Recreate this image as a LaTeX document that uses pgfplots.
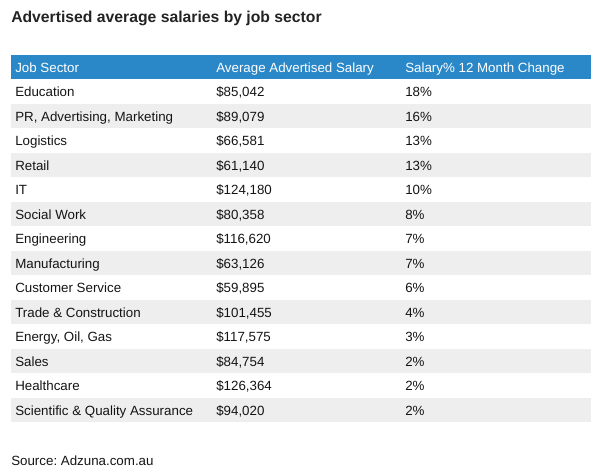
\documentclass[border=0pt]{standalone}
\usepackage{pgfplots}
\pgfplotsset{compat=1.18}
\usepackage{pgfplotstable}
\usepackage{fontspec}
\setmainfont{Liberation Sans}
\frenchspacing
\definecolor{hdrblue}{RGB}{42,136,200}
\definecolor{rowgray}{RGB}{238,238,238}
\definecolor{txt}{RGB}{20,20,20}
\definecolor{ttl}{RGB}{35,35,35}
\newcommand\bodyfont{\fontsize{10}{12}\selectfont}

\pgfplotstableread[col sep=semicolon]{
row;sector;salary;change
0;Education;85042;18
1;PR, Advertising, Marketing;89079;16
2;Logistics;66581;13
3;Retail;61140;13
4;IT;124180;10
5;Social Work;80358;8
6;Engineering;116620;7
7;Manufacturing;63126;7
8;Customer Service;59895;6
9;Trade \& Construction;101455;4
10;Energy, Oil, Gas;117575;3
11;Sales;84754;2
12;Healthcare;126364;2
13;Scientific \& Quality Assurance;94020;2
}\datatable

\begin{document}
\begin{tikzpicture}
\begin{axis}[
  scale only axis, width=450pt, height=356.25pt,
  xmin=0, xmax=600, ymin=0, ymax=475, y dir=reverse,
  hide axis, clip=false,
  /pgf/number format/assume math mode=true,
  cellstyle/.style={draw=none, mark=none, nodes near coords,
    nodes near coords style={anchor=base west, inner sep=0pt, font=\bodyfont, text=txt}},
]
\path (axis cs:0,0) rectangle (axis cs:600,475);
% header band
\addplot[fill=hdrblue, draw=none] coordinates {(11,55) (591,55) (591,79) (11,79)} -- cycle;
% shaded rows
\addplot[fill=rowgray, draw=none] coordinates {(11,103.5) (591,103.5) (591,128) (11,128)} -- cycle;
\addplot[fill=rowgray, draw=none] coordinates {(11,152.5) (591,152.5) (591,177) (11,177)} -- cycle;
\addplot[fill=rowgray, draw=none] coordinates {(11,201.5) (591,201.5) (591,226) (11,226)} -- cycle;
\addplot[fill=rowgray, draw=none] coordinates {(11,250.5) (591,250.5) (591,275) (11,275)} -- cycle;
\addplot[fill=rowgray, draw=none] coordinates {(11,299.5) (591,299.5) (591,324) (11,324)} -- cycle;
\addplot[fill=rowgray, draw=none] coordinates {(11,348.5) (591,348.5) (591,373) (11,373)} -- cycle;
\addplot[fill=rowgray, draw=none] coordinates {(11,397.5) (591,397.5) (591,422) (11,422)} -- cycle;

% cells
\addplot[cellstyle, point meta=explicit symbolic]
  table[x expr=15, y expr=96.75+24.5*\thisrow{row}, meta=sector]{\datatable};
\addplot[cellstyle, point meta=explicit,
  nodes near coords={\$\pgfmathprintnumber[fixed, precision=0, 1000 sep={,}]{\pgfplotspointmeta}}]
  table[x expr=216, y expr=96.75+24.5*\thisrow{row}, meta=salary]{\datatable};
\addplot[cellstyle, point meta=explicit,
  nodes near coords={\pgfmathprintnumber[fixed, precision=0]{\pgfplotspointmeta}\%}]
  table[x expr=405, y expr=96.75+24.5*\thisrow{row}, meta=change]{\datatable};

% header texts
\node[anchor=base west, inner sep=0pt, font=\bodyfont, text=white] at (axis cs:15,72) {Job Sector};
\node[anchor=base west, inner sep=0pt, font=\bodyfont, text=white] at (axis cs:216,72) {Average Advertised Salary};
\node[anchor=base west, inner sep=0pt, font=\bodyfont, text=white] at (axis cs:405,72) {Salary\% 12 Month Change};

% title and source
\node[anchor=base west, inner sep=0pt, font=\fontsize{11.8}{14}\selectfont\bfseries, text=ttl] at (axis cs:11,22) {Advertised average salaries by job sector};
\node[anchor=base west, inner sep=0pt, font=\bodyfont, text=txt] at (axis cs:11,465) {Source: Adzuna.com.au};
\end{axis}
\end{tikzpicture}
\end{document}
